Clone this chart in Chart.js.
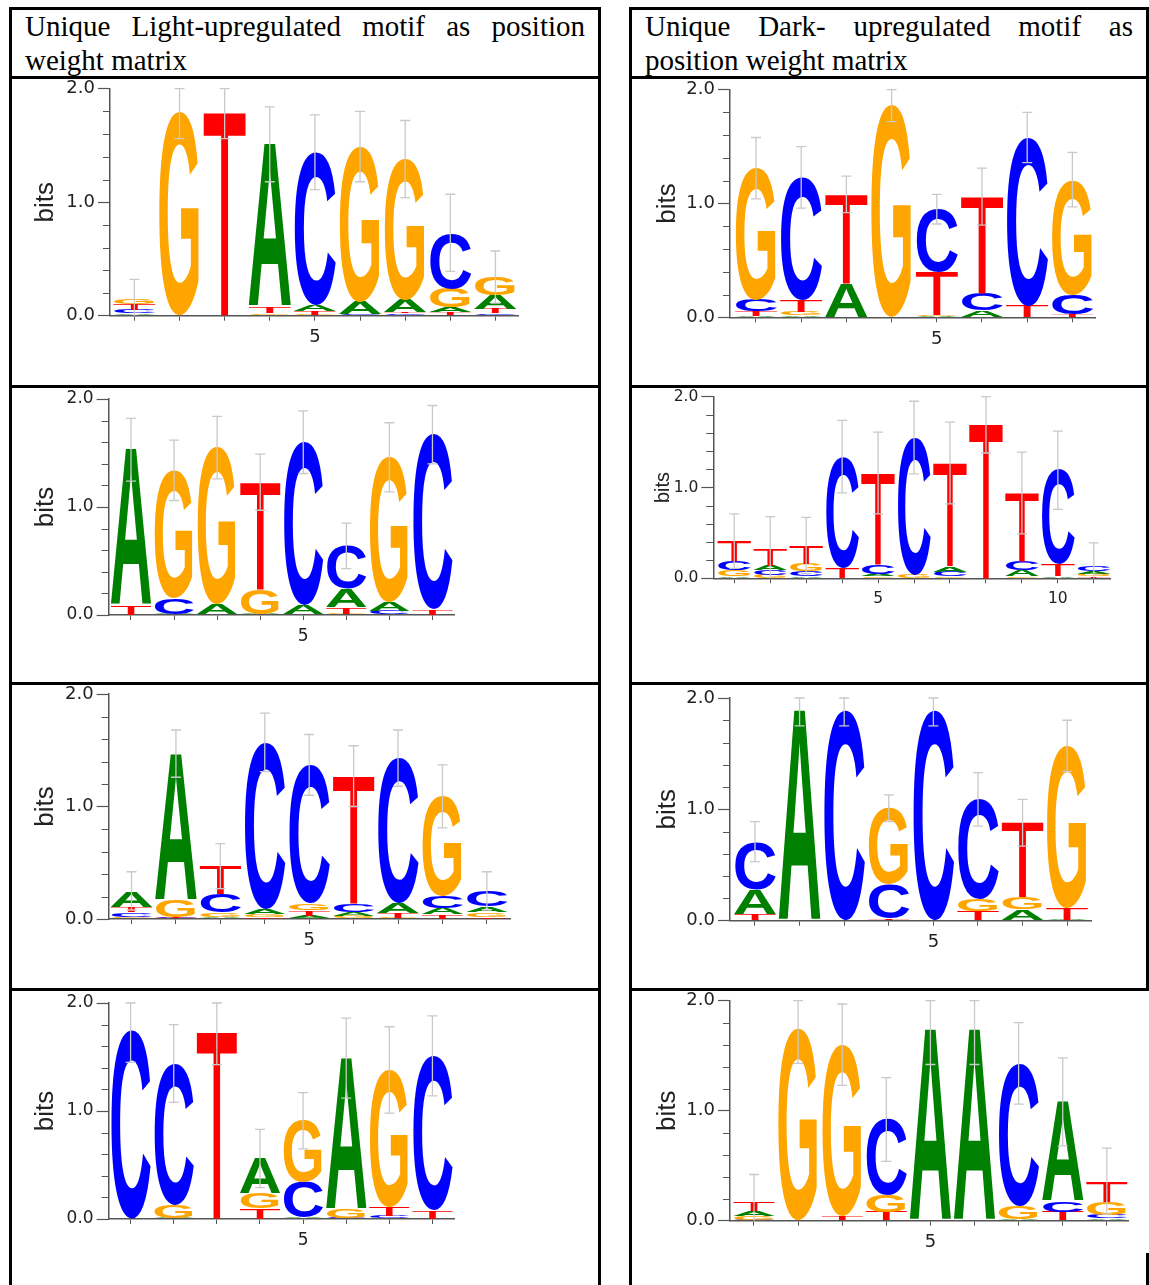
<!DOCTYPE html>
<html>
<head>
<meta charset="utf-8">
<script src="https://cdn.jsdelivr.net/npm/chart.js@4.4.1/dist/chart.umd.min.js"></script>
<style>
  html, body { margin: 0; padding: 0; background: #fff; }
  #page { position: relative; width: 1149px; height: 1285px; overflow: hidden; background: #fff; }
  .rule { position: absolute; background: #000; z-index: 5; }
  .head {
    position: absolute; font-family: "Liberation Serif", "Times New Roman", serif;
    font-size: 29px; line-height: 29px; color: #000;
    text-align: justify; text-align-last: justify;
  }
  .head.last { text-align: left; text-align-last: left; }
  canvas { position: absolute; z-index: 1; }
</style>
</head>
<body>
<div id="page">
  <div class="head" style="left:25px; top:12px; width:560px;">Unique Light-upregulated motif as position</div>
  <div class="head last" style="left:25px; top:46px; width:560px;">weight matrix</div>
  <div class="head" style="left:645px; top:12px; width:488px;">Unique Dark- upregulated motif as</div>
  <div class="head last" style="left:645px; top:46px; width:488px;">position weight matrix</div>
</div>
<script>
// Nucleotides per column, listed bottom to top, with their heights in bits.
// Error bars are the half-range drawn around each column's total height.

// Light-upregulated motif 1
const light1Letters = ['ACTG', 'G', 'T', 'GTA', 'GTAC', 'CAG', 'CTAG', 'TAGC', 'CTAG'];
const light1Bits = [[0.02, 0.03, 0.05, 0.05], [1.80], [1.80], [0.02, 0.06, 1.43], [0.01, 0.03, 0.05, 1.35],
                    [0.01, 0.11, 1.37], [0.02, 0.01, 0.11, 1.24], [0.03, 0.04, 0.17, 0.49], [0.02, 0.04, 0.12, 0.16]];
const light1Err = [0.17, 0.24, 0.24, 0.33, 0.33, 0.31, 0.34, 0.34, 0.23];

// Dark-upregulated motif 1
const dark1Letters = ['ATCG', 'AGTC', 'AT', 'G', 'AGTC', 'ACT', 'TC', 'TCG'];
const dark1Bits = [[0.01, 0.04, 0.10, 1.16], [0.02, 0.03, 0.10, 1.08], [0.30, 0.78], [1.87],
                   [0.01, 0.01, 0.38, 0.55], [0.06, 0.15, 0.85], [0.10, 1.48], [0.03, 0.17, 1.01]];
const dark1Err = [0.27, 0.27, 0.16, 0.15, 0.13, 0.25, 0.22, 0.24];

// Light-upregulated motif 2
const light2Letters = ['TA', 'ACG', 'AG', 'AGT', 'AC', 'GTAC', 'CAG', 'TC'];
const light2Bits = [[0.09, 1.44], [0.01, 0.15, 1.18], [0.10, 1.45], [0.01, 0.23, 0.99],
                    [0.09, 1.51], [0.01, 0.06, 0.17, 0.40], [0.04, 0.08, 1.34], [0.05, 1.62]];
const light2Err = [0.29, 0.28, 0.29, 0.26, 0.29, 0.21, 0.32, 0.27];

// Dark-upregulated motif 2
const dark2Letters = ['AGCT', 'GCAT', 'ACGT', 'TC', 'GACT', 'GC', 'GCAT', 'T', 'GACT', 'ATC', 'TGAC'];
const dark2Bits = [[0.02, 0.07, 0.10, 0.22], [0.04, 0.05, 0.05, 0.18], [0.02, 0.06, 0.08, 0.20], [0.12, 1.22],
                   [0.02, 0.03, 0.10, 1.01], [0.04, 1.51], [0.02, 0.05, 0.06, 1.14], [1.71],
                   [0.02, 0.07, 0.10, 0.75], [0.02, 0.13, 1.04], [0.02, 0.03, 0.03, 0.06]];
const dark2Err = [0.30, 0.36, 0.31, 0.40, 0.45, 0.40, 0.45, 0.33, 0.45, 0.43, 0.25];

// Light-upregulated motif 3
const light3Letters = ['GCTA', 'CTGA', 'AGCT', 'TGAC', 'ATGC', 'GACT', 'GTAC', 'TACG', 'TGAC'];
const light3Bits = [[0.02, 0.04, 0.05, 0.14], [0.01, 0.01, 0.15, 1.30], [0.02, 0.04, 0.16, 0.25],
                    [0.02, 0.02, 0.05, 1.48], [0.03, 0.05, 0.06, 1.23], [0.03, 0.03, 0.07, 1.14],
                    [0.01, 0.04, 0.09, 1.29], [0.04, 0.06, 0.10, 0.89], [0.02, 0.04, 0.05, 0.14]];
const light3Err = [0.17, 0.21, 0.20, 0.26, 0.27, 0.27, 0.25, 0.28, 0.17];

// Dark-upregulated motif 3
const dark3Letters = ['TAC', 'A', 'C', 'TCG', 'C', 'TGC', 'AGT', 'ATG'];
const dark3Bits = [[0.06, 0.22, 0.43], [1.89], [1.89], [0.02, 0.31, 0.68],
                   [1.89], [0.09, 0.10, 0.90], [0.10, 0.11, 0.67], [0.01, 0.10, 1.46]];
const dark3Err = [0.18, 0.14, 0.14, 0.12, 0.14, 0.24, 0.21, 0.23];

// Light-upregulated motif 4
const light4Letters = ['C', 'AGC', 'T', 'TGA', 'ACG', 'CGA', 'CTG', 'TC'];
const light4Bits = [[1.75], [0.01, 0.12, 1.31], [1.74], [0.10, 0.14, 0.32],
                    [0.01, 0.33, 0.57], [0.01, 0.08, 1.40], [0.03, 0.08, 1.27], [0.08, 1.43]];
const light4Err = [0.30, 0.36, 0.31, 0.27, 0.26, 0.37, 0.40, 0.37];

// Dark-upregulated motif 4
const dark4Letters = ['CGAT', 'G', 'TG', 'TGC', 'A', 'A', 'AGC', 'TCA', 'ACGT'];
const dark4Bits = [[0.01, 0.03, 0.05, 0.08], [1.75], [0.04, 1.56], [0.08, 0.15, 0.69],
                   [1.74], [1.74], [0.01, 0.12, 1.30], [0.08, 0.10, 0.90], [0.02, 0.03, 0.12, 0.19]];
const dark4Err = [0.25, 0.32, 0.37, 0.38, 0.32, 0.32, 0.37, 0.40, 0.30];

// Shared y-axis tick values (bits)
const bitTicks = [0, 0.2, 0.4, 0.6, 0.8, 1.0, 1.2, 1.4, 1.6, 1.8, 2.0];

const baseColors = { A: '#008000', C: '#0000ff', G: '#ffa500', T: '#ff0000' };
const baseWeights = { A: 'bold', C: 'bold', G: 'bold', T: 'normal' };

// Table rules: [left, top, width, height]
const rules = [
  [9, 7, 592, 3], [9, 76, 592, 3], [9, 385, 592, 3], [9, 682, 592, 3], [9, 988, 592, 3],
  [9, 7, 3, 1278], [598, 7, 3, 1278],
  [629, 7, 520, 3], [629, 76, 520, 3], [629, 385, 520, 3], [629, 682, 520, 3], [629, 988, 520, 3],
  [629, 7, 3, 1278], [1146, 7, 3, 984], [1146, 1253, 3, 32]
];

// Where each logo sits inside its table cell
const panels = [
  { letters: light1Letters, bits: light1Bits, err: light1Err, cellL: 12, cellR: 598, cellB: 385,
    axisX: 110, axisEnd: 518, yTop: 88.7, yZero: 315.7, xMin: 0.46, xMax: 9.5, bitsX: 46, tick: 18, title: 26 },
  { letters: dark1Letters, bits: dark1Bits, err: dark1Err, cellL: 632, cellR: 1146, cellB: 385,
    axisX: 730, axisEnd: 1095, yTop: 89.7, yZero: 317.3, xMin: 0.425, xMax: 8.5, bitsX: 667.5, tick: 18, title: 26 },
  { letters: light2Letters, bits: light2Bits, err: light2Err, cellL: 12, cellR: 598, cellB: 682,
    axisX: 108.6, axisEnd: 454, yTop: 399, yZero: 615, xMin: 0.48, xMax: 8.5, bitsX: 45.7, tick: 17, title: 26 },
  { letters: dark2Letters, bits: dark2Bits, err: dark2Err, cellL: 632, cellR: 1146, cellB: 682,
    axisX: 713.3, axisEnd: 1110, yTop: 396.7, yZero: 578.3, xMin: 0.417, xMax: 11.45, bitsX: 663.3, tick: 15.5, title: 20 },
  { letters: light3Letters, bits: light3Bits, err: light3Err, cellL: 12, cellR: 598, cellB: 988,
    axisX: 108.6, axisEnd: 510.4, yTop: 694, yZero: 919, xMin: 0.484, xMax: 9.53, bitsX: 46.3, tick: 18, title: 26 },
  { letters: dark3Letters, bits: dark3Bits, err: dark3Err, cellL: 632, cellR: 1146, cellB: 988,
    axisX: 730, axisEnd: 1091.7, yTop: 698, yZero: 920.7, xMin: 0.44, xMax: 8.55, bitsX: 667.5, tick: 18, title: 26 },
  { letters: light4Letters, bits: light4Bits, err: light4Err, cellL: 12, cellR: 598, cellB: 1285,
    axisX: 108.6, axisEnd: 454, yTop: 1003, yZero: 1219, xMin: 0.49, xMax: 8.5, bitsX: 46.3, tick: 17, title: 26 },
  { letters: dark4Letters, bits: dark4Bits, err: dark4Err, cellL: 632, cellR: 1146, cellB: 1285,
    axisX: 730, axisEnd: 1128, yTop: 1000.7, yZero: 1220.7, xMin: 0.456, xMax: 9.48, bitsX: 667.5, tick: 18, title: 26 }
];

const page = document.getElementById('page');
rules.forEach(([l, t, w, h]) => {
  const d = document.createElement('div');
  d.className = 'rule';
  d.style.cssText = `left:${l}px;top:${t}px;width:${w}px;height:${h}px;`;
  page.appendChild(d);
});

const isMajor = v => Math.abs(v - Math.round(v)) < 1e-6;

// Paint one nucleotide so its glyph fills the given box
function drawGlyph(ctx, ch, left, top, w, h, color) {
  if (h < 0.3 || w <= 0) return;
  ctx.save();
  ctx.font = `${baseWeights[ch]} 200px "Liberation Sans", Arial, sans-serif`;
  ctx.textAlign = 'left';
  ctx.textBaseline = 'alphabetic';
  const m = ctx.measureText(ch);
  const asc = m.actualBoundingBoxAscent, desc = m.actualBoundingBoxDescent;
  ctx.translate(left, top + h);
  ctx.scale(w / m.width, h / (asc + desc));
  ctx.fillStyle = color;
  ctx.fillText(ch, 0, -desc);
  ctx.restore();
}

function makeLogoPlugin(spec) {
  return {
    id: 'sequenceLogo',
    afterDatasetsDraw(chart) {
      const ctx = chart.ctx;
      chart.data.datasets.forEach((ds, di) => {
        const meta = chart.getDatasetMeta(di);
        meta.data.forEach((bar, j) => {
          const ch = ds.glyphs[j];
          if (!ch) return;
          const p = bar.getProps(['x', 'y', 'base', 'width'], true);
          drawGlyph(ctx, ch, p.x - p.width / 2, p.y, p.width, p.base - p.y, baseColors[ch]);
        });
      });
      // error bars
      const xs = chart.scales.x, ys = chart.scales.y;
      ctx.save();
      ctx.strokeStyle = '#c9c9c9';
      ctx.lineWidth = 1.3;
      spec.bits.forEach((col, i) => {
        const total = col.reduce((a, b) => a + b, 0);
        const lo = total - spec.err[i], hi = Math.min(2, total + spec.err[i]);
        const px = xs.getPixelForValue(i + 1);
        const yHi = ys.getPixelForValue(hi), yLo = ys.getPixelForValue(Math.max(0, lo));
        ctx.beginPath();
        ctx.moveTo(px, yLo); ctx.lineTo(px, yHi);
        ctx.moveTo(px - 5, yHi); ctx.lineTo(px + 5, yHi);
        if (lo > 0) { ctx.moveTo(px - 5, yLo); ctx.lineTo(px + 5, yLo); }
        ctx.stroke();
      });
      ctx.restore();
    },
    afterDraw(chart) {
      // short minor ticks between the labelled ones
      const ys = chart.scales.y, ctx = chart.ctx;
      const x0 = ys.right;
      ctx.save();
      ctx.strokeStyle = '#555';
      ctx.lineWidth = 1.2;
      ctx.beginPath();
      bitTicks.filter(v => !isMajor(v)).forEach(v => {
        const py = Math.round(ys.getPixelForValue(v)) + 0.5;
        ctx.moveTo(x0 - 7, py); ctx.lineTo(x0, py);
      });
      ctx.stroke();
      ctx.restore();
    }
  };
}

panels.forEach(spec => {
  const canvasLeft = spec.cellL;
  const canvasTop = Math.floor(spec.yTop - 30);
  const canvasW = spec.cellR - spec.cellL;
  const canvasH = spec.cellB - canvasTop;
  const cv = document.createElement('canvas');
  cv.width = canvasW; cv.height = canvasH;
  cv.style.left = canvasLeft + 'px';
  cv.style.top = canvasTop + 'px';
  cv.style.width = canvasW + 'px';
  cv.style.height = canvasH + 'px';
  page.appendChild(cv);

  const positions = spec.letters.map((_, i) => i + 1);
  const layers = Math.max(...spec.letters.map(s => s.length));
  const datasets = [];
  for (let k = 0; k < layers; k++) {
    datasets.push({
      data: spec.bits.map((col, i) => ({ x: i + 1, y: col[k] || 0 })),
      glyphs: spec.letters.map(s => s[k] || ''),
      backgroundColor: 'rgba(0,0,0,0)',
      borderWidth: 0,
      barPercentage: 1,
      categoryPercentage: 1,
      stack: 'logo'
    });
  }

  const titleLine = spec.title * 1.2;
  new Chart(cv, {
    type: 'bar',
    data: { datasets },
    options: {
      responsive: false,
      animation: false,
      devicePixelRatio: 1,
      events: [],
      layout: {
        padding: {
          left: 0,
          top: spec.yTop - canvasTop,
          right: canvasW - (spec.axisEnd - canvasLeft),
          bottom: 0
        }
      },
      plugins: { legend: { display: false }, tooltip: { enabled: false }, title: { display: false } },
      scales: {
        x: {
          type: 'linear', min: spec.xMin, max: spec.xMax, offset: false, stacked: true,
          grid: { offset: false, drawOnChartArea: false, drawTicks: true, tickLength: 5, tickColor: '#555', tickWidth: 1 },
          border: { display: true, color: '#555', width: 1.5 },
          ticks: {
            autoSkip: false, maxRotation: 0, minRotation: 0, padding: 6, color: '#222',
            font: { family: 'DejaVu Sans', size: spec.tick },
            callback: v => (v % 5 === 0 ? String(v) : '')
          },
          afterBuildTicks: s => { s.ticks = positions.map(v => ({ value: v })); },
          afterFit: s => { s.height = canvasH - (spec.yZero - canvasTop); }
        },
        y: {
          type: 'linear', min: 0, max: 2, stacked: true,
          grid: {
            drawOnChartArea: false, drawTicks: true, tickLength: 12, tickWidth: 1.2,
            tickColor: c => (c.tick && isMajor(c.tick.value) ? '#555' : 'rgba(0,0,0,0)')
          },
          border: { display: true, color: '#555', width: 1.5 },
          ticks: {
            autoSkip: false, padding: 3, color: '#222',
            font: { family: 'DejaVu Sans', size: spec.tick },
            callback: v => (isMajor(v) ? Number(v).toFixed(1) : '')
          },
          title: {
            display: true, text: 'bits', color: '#222',
            font: { family: 'Liberation Sans', size: spec.title },
            padding: { top: spec.bitsX - canvasLeft - titleLine / 2, bottom: 0 }
          },
          afterBuildTicks: s => { s.ticks = bitTicks.map(v => ({ value: v })); },
          afterFit: s => { s.width = spec.axisX - canvasLeft; }
        }
      }
    },
    plugins: [makeLogoPlugin(spec)]
  });
});
</script>
</body>
</html>
